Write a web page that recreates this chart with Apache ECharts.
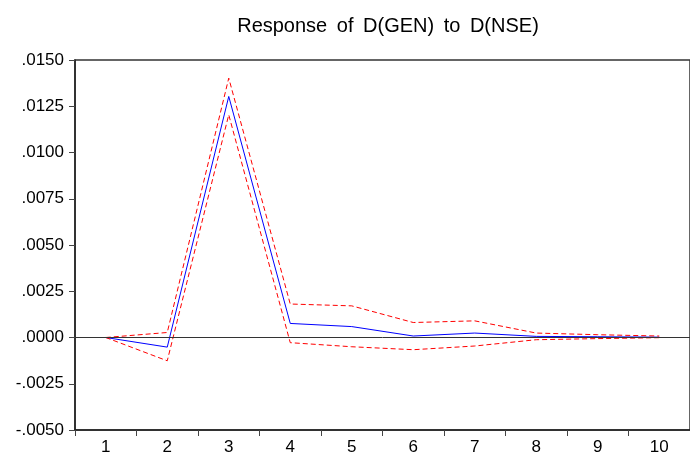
<!DOCTYPE html>
<html>
<head>
<meta charset="utf-8">
<script src="https://cdn.jsdelivr.net/npm/echarts@6/dist/echarts.min.js"></script>
<style>html,body{margin:0;padding:0;background:#fff;}#c{width:690px;height:458px;}</style>
</head>
<body>
<div id="c"></div>
<script>
var titleText = 'Response of D(GEN) to D(NSE)';
var periods = ['1','2','3','4','5','6','7','8','9','10'];
var response = [0.0000, -0.00052, 0.01303, 0.00076, 0.00059, 0.00008, 0.00024, 0.00006, 0.00004, 0.00002];
var upperBand = [0.0000, 0.00027, 0.01402, 0.00181, 0.00171, 0.00081, 0.00090, 0.00024, 0.00015, 0.00008];
var lowerBand = [0.0000, -0.00126, 0.01204, -0.00028, -0.00050, -0.00066, -0.00046, -0.00012, -0.00006, -0.00001];
var yTicks = { min: -0.005, max: 0.015, interval: 0.0025 };

var chart = echarts.init(document.getElementById('c'), null, {renderer: 'canvas'});
var fmt = function (v) {
  var s = Math.abs(v).toFixed(4).replace(/^0/, '');
  return (v < -1e-12 ? '-' : '') + s;
};
var richTitle = titleText.split(' ').map(function (w) { return '{w|' + w + '}'; }).join(' ');
chart.setOption({
  animation: false,
  backgroundColor: '#fff',
  title: {
    text: richTitle,
    left: 383, top: 11, textAlign: 'center',
    textStyle: {
      fontFamily: 'Liberation Sans, Arial', fontSize: 20, fontWeight: 'normal', color: '#000',
      rich: { w: { fontFamily: 'Liberation Sans, Arial', fontSize: 20, color: '#000', padding: [0, 2] } }
    }
  },
  grid: { left: 75, top: 60, width: 617, height: 370, show: true, borderColor: '#333', borderWidth: 1.5, backgroundColor: '#fff' },
  xAxis: {
    type: 'category', data: periods, boundaryGap: true,
    axisLine: { onZero: false, lineStyle: { color: '#222', width: 1.5 } },
    axisTick: { show: true, length: 6, inside: false, lineStyle: { color: '#444' } },
    axisLabel: { fontFamily: 'Liberation Sans, Arial', fontSize: 17, color: '#000', margin: 9 },
    splitLine: { show: false }
  },
  yAxis: {
    type: 'value', min: yTicks.min, max: yTicks.max, interval: yTicks.interval,
    axisLine: { show: true, lineStyle: { color: '#222', width: 1.5 } },
    axisTick: { show: true, length: 6, lineStyle: { color: '#444' } },
    axisLabel: { fontFamily: 'Liberation Sans, Arial', fontSize: 17, color: '#000', margin: 11, formatter: fmt },
    splitLine: { show: false }
  },
  series: [
    {
      type: 'line', data: response, symbol: 'none', z: 3,
      lineStyle: { color: '#0000ff', width: 1 },
      markLine: { silent: true, symbol: 'none', label: { show: false },
        lineStyle: { color: '#333', width: 1, type: 'solid' },
        data: [{ yAxis: 0 }] }
    },
    { type: 'line', data: upperBand, symbol: 'none', z: 4, lineStyle: { color: '#ff0000', width: 1, type: [5, 3] } },
    { type: 'line', data: lowerBand, symbol: 'none', z: 4, lineStyle: { color: '#ff0000', width: 1, type: [5, 3] } }
  ]
});
</script>
</body>
</html>
